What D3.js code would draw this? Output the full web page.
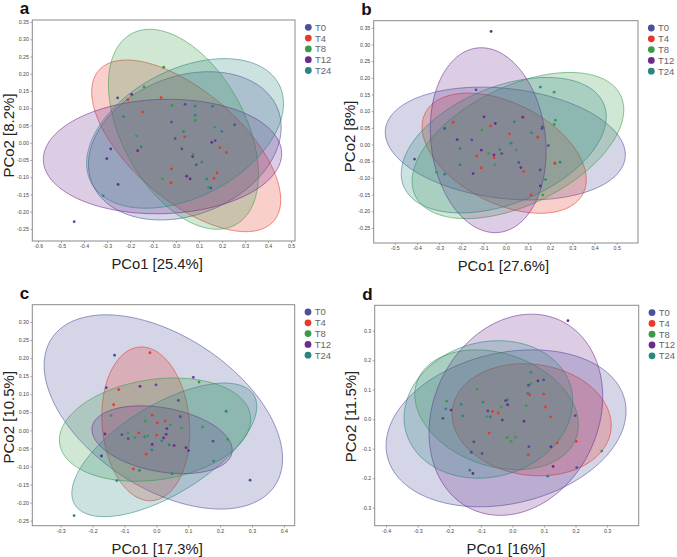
<!DOCTYPE html>
<html>
<head>
<meta charset="utf-8">
<script src="https://d3js.org/d3.v7.min.js"></script>
<style>
  body { margin: 0; background: #fff; }
  text { font-family: "Liberation Sans", Arial, sans-serif; }
</style>
</head>
<body>
<div id="chart"></div>
<script>
var groups = ["T0", "T4", "T8", "T12", "T24"];
var colors = ["#4b4f9c", "#e8382b", "#3a9a4a", "#6b2b8e", "#2b8580"];

// points: [group index, PCo1, PCo2]
var ptsA = [
  [0,-0.443,-0.229],[4,-0.317,-0.154],[3,-0.252,-0.121],[3,-0.301,-0.046],[3,-0.284,-0.018],
  [0,-0.254,0.130],[4,-0.229,0.076],[1,-0.210,0.125],[3,-0.193,0.140],[2,-0.139,0.162],
  [2,-0.054,0.219],[1,-0.146,0.089],[2,-0.172,0.020],[4,-0.152,-0.012],[3,-0.167,-0.023],
  [1,-0.065,0.131],[2,-0.017,0.108],[0,-0.020,0.060],[0,-0.004,0.012],[0,0.025,-0.018],
  [4,0.032,0.032],[1,0.038,0.017],[0,0.039,0.111],[4,0.083,0.106],[4,0.083,0.080],
  [2,0.084,0.065],[1,-0.020,-0.076],[1,-0.022,-0.116],[2,-0.059,-0.105],[3,0.046,-0.097],
  [3,0.061,-0.105],[3,0.072,-0.040],[2,0.075,-0.033],[0,0.088,-0.064],[4,0.112,-0.056],
  [4,0.159,0.106],[2,0.167,0.045],[4,0.199,0.033],[3,0.155,0.001],[0,0.170,0.006],
  [1,0.190,-0.014],[1,0.219,-0.028],[0,0.255,0.052],[1,0.178,-0.087],[1,0.165,-0.103],
  [4,0.133,-0.105],[2,0.141,-0.129],[0,0.151,-0.131]
];
var ptsB = [
  [3,-0.066,0.339],[0,-0.134,0.164],[0,-0.275,0.048],[1,-0.237,0.067],[0,-0.411,-0.044],
  [2,-0.312,-0.083],[4,-0.275,-0.089],[3,-0.219,0.015],[4,-0.206,-0.012],[4,-0.206,-0.061],
  [0,-0.153,0.014],[3,-0.147,-0.087],[3,-0.098,0.083],[2,-0.108,0.044],[1,-0.068,0.056],
  [3,-0.047,0.063],[1,-0.131,-0.034],[1,-0.111,-0.070],[3,-0.110,-0.017],[2,-0.077,-0.026],
  [3,-0.053,-0.031],[1,-0.053,-0.039],[2,-0.048,-0.060],[4,-0.027,-0.015],[0,-0.018,-0.027],
  [1,0.017,0.032],[4,0.024,0.004],[4,0.039,0.068],[2,0.048,-0.016],[0,0.059,-0.054],
  [3,0.068,-0.069],[1,0.081,-0.081],[3,0.077,0.082],[4,0.116,0.035],[1,0.144,0.022],
  [0,0.164,0.048],[0,0.165,0.053],[4,0.156,0.172],[2,0.218,0.157],[2,0.224,0.073],
  [2,0.218,0.060],[0,0.192,-0.003],[0,0.155,-0.076],[2,0.222,-0.055],[1,0.221,-0.057],
  [4,0.245,-0.053],[4,0.179,-0.105],[3,0.156,-0.124],[1,0.114,-0.151],[2,0.167,-0.151]
];
var ptsC = [
  [4,-0.258,-0.236],[3,-0.172,-0.071],[3,-0.161,-0.010],[0,-0.157,0.118],[0,-0.131,0.208],
  [1,-0.118,0.113],[1,-0.134,0.071],[2,-0.142,0.041],[4,-0.124,-0.139],[0,-0.108,-0.012],
  [2,-0.089,-0.007],[0,-0.088,-0.023],[1,-0.072,-0.107],[2,-0.067,-0.020],[1,-0.055,-0.007],
  [4,-0.053,-0.111],[3,-0.051,0.122],[2,-0.034,0.026],[4,-0.037,-0.018],[2,-0.027,-0.015],
  [1,-0.032,-0.066],[1,-0.020,0.215],[1,-0.013,0.042],[3,-0.013,-0.039],[4,-0.014,-0.054],
  [0,-0.001,0.126],[1,0.003,0.021],[1,0.001,-0.013],[4,0.017,-0.029],[3,0.023,-0.021],
  [1,0.028,0.026],[3,0.031,-0.011],[3,0.033,0.005],[4,0.040,-0.040],[2,0.044,0.015],
  [4,0.049,-0.120],[3,0.056,-0.042],[0,0.069,0.083],[0,0.075,0.038],[2,0.079,0.007],
  [3,0.093,-0.048],[3,0.101,-0.056],[0,0.116,0.147],[2,0.134,0.134],[2,0.145,0.009],
  [0,0.178,-0.030],[4,0.180,-0.085],[4,0.219,0.053],[2,0.224,-0.025],[0,0.294,-0.138]
];
var ptsD = [
  [3,0.176,0.334],[0,-0.220,0.003],[4,-0.211,0.035],[2,-0.208,0.061],[3,-0.194,0.031],
  [4,-0.162,0.050],[4,-0.157,0.011],[4,-0.135,-0.173],[3,-0.125,-0.184],[0,-0.130,-0.112],
  [0,-0.122,-0.077],[2,-0.112,0.102],[0,-0.096,-0.116],[4,-0.093,0.058],[2,-0.081,0.008],
  [0,-0.078,0.028],[4,-0.070,0.008],[1,-0.063,0.026],[1,-0.045,0.021],[1,-0.074,-0.047],
  [2,-0.035,0.042],[3,-0.032,-0.003],[3,-0.021,0.063],[4,-0.015,0.066],[3,-0.015,0.049],
  [2,-0.016,-0.062],[2,-0.004,-0.075],[2,0.010,-0.061],[3,0.037,-0.007],[2,0.044,0.046],
  [4,0.049,0.087],[0,0.051,0.115],[1,0.055,0.082],[2,0.059,0.121],[4,0.059,0.159],
  [0,0.052,-0.093],[1,0.050,-0.120],[3,0.081,0.130],[0,0.099,0.133],[1,0.099,0.085],
  [1,0.105,0.042],[1,0.121,0.008],[3,0.122,-0.093],[3,0.129,-0.160],[4,0.112,-0.193],
  [1,0.142,-0.080],[0,0.199,0.012],[1,0.202,-0.075],[0,0.204,-0.164],[2,0.283,-0.108]
];

// ellipses per group: [centre x, centre y, half width, half height, correlation]
var ellA = [[0.038,-0.009,0.419,0.215,0.25],[0.044,-0.009,0.411,0.249,-0.63],[0.032,0.039,0.326,0.290,-0.45],
            [-0.059,-0.040,0.518,0.166,0.05],[0.039,0.027,0.428,0.217,0.40]];
var ellB = [[-0.002,0.003,0.541,0.169,-0.2],[-0.007,-0.026,0.370,0.180,-0.44],[0.055,-0.003,0.477,0.219,0.49],
            [-0.079,0.013,0.261,0.277,-0.12],[-0.009,-0.002,0.462,0.203,0.42]];
var ellC = [[0.022,0.051,0.374,0.269,-0.48],[-0.033,0.018,0.138,0.213,-0.1],[-0.004,0.002,0.300,0.143,0.2],
            [0.018,-0.026,0.220,0.094,-0.3],[0.025,-0.054,0.290,0.185,0.65]];
var ellD = [[-0.020,-0.031,0.380,0.266,0.22],[0.061,-0.002,0.252,0.190,-0.1],[-0.050,0.032,0.259,0.203,-0.25],
            [0.011,0.015,0.275,0.341,0.18],[-0.076,0.033,0.267,0.233,0.12]];

var xTicksA = d3.range(-6, 6).map(d => d / 10), yTicksA = d3.range(-5, 8).map(d => d / 20);
var xTicksB = d3.range(-5, 6).map(d => d / 10), yTicksB = d3.range(-5, 8).map(d => d / 20);
var xTicksC = d3.range(-3, 5).map(d => d / 10), yTicksC = d3.range(-5, 7).map(d => d / 20);
var xTicksD = d3.range(-4, 4).map(d => d / 10), yTicksD = d3.range(-3, 4).map(d => d / 10);

var panels = [
  {label: "a", box: [32.3, 20, 295, 241], xd: [-0.625, 0.517], yd: [-0.285, 0.356], xt: xTicksA, yt: yTicksA,
   yf: ".2f", xTitle: "PCo1 [25.4%]", yTitle: "PCo2 [8.2%]", pts: ptsA, ell: ellA, tdx: -6.5, tdy: 5},
  {label: "b", box: [373.7, 20.7, 638, 243], xd: [-0.595, 0.596], yd: [-0.295, 0.371], xt: xTicksB, yt: yTicksB,
   yf: ".2f", xTitle: "PCo1 [27.6%]", yTitle: "PCo2 [8%]", pts: ptsB, ell: ellB, tdx: -2.5, tdy: 4.5},
  {label: "c", box: [32.3, 304.7, 294.7, 525.7], xd: [-0.389, 0.434], yd: [-0.264, 0.348], xt: xTicksC, yt: yTicksC,
   yf: ".2f", xTitle: "PCo1 [17.3%]", yTitle: "PCo2 [10.5%]", pts: ptsC, ell: ellC, tdx: -6.3, tdy: 2},
  {label: "d", box: [374.7, 305.3, 638.7, 525.7], xd: [-0.436, 0.400], yd: [-0.361, 0.386], xt: xTicksD, yt: yTicksD,
   yf: ".1f", xTitle: "PCo1 [16%]", yTitle: "PCo2 [11.5%]", pts: ptsD, ell: ellD, tdx: -0.7, tdy: 1}
];

var svg = d3.select("#chart").append("svg").attr("width", 677).attr("height", 557);
svg.append("rect").attr("width", 677).attr("height", 557).attr("fill", "#fff");

function fmt(f) { var g = d3.format(f); return d => g(d).replace("\u2212", "-"); }

panels.forEach(function(p) {
  var x0 = p.box[0], y0 = p.box[1], x1 = p.box[2], y1 = p.box[3];
  var x = d3.scaleLinear().domain(p.xd).range([x0, x1]);
  var y = d3.scaleLinear().domain(p.yd).range([y1, y0]);
  var g = svg.append("g");

  var clipId = "clip" + p.label;
  g.append("clipPath").attr("id", clipId).append("rect")
    .attr("x", x0).attr("y", y0).attr("width", x1 - x0).attr("height", y1 - y0);

  var line = d3.line().x(d => x(d[0])).y(d => y(d[1]));
  var tt = d3.range(0, 121).map(i => i / 120 * 2 * Math.PI);
  g.append("g").attr("clip-path", "url(#" + clipId + ")")
    .selectAll("path").data(p.ell).join("path")
      .attr("d", e => line(tt.map(t => [e[0] + e[2] * Math.cos(t),
          e[1] + e[3] * (e[4] * Math.cos(t) + Math.sqrt(1 - e[4] * e[4]) * Math.sin(t))])) + "Z")
      .attr("fill", (e, i) => colors[i]).attr("fill-opacity", 0.24)
      .attr("stroke", (e, i) => colors[i]).attr("stroke-opacity", 0.7).attr("stroke-width", 0.8);

  g.append("g").selectAll("circle").data(p.pts).join("circle")
    .attr("cx", d => x(d[1])).attr("cy", d => y(d[2])).attr("r", 1.4)
    .attr("fill", d => colors[d[0]]);

  g.append("rect").attr("x", x0).attr("y", y0).attr("width", x1 - x0).attr("height", y1 - y0)
    .attr("fill", "none").attr("stroke", "#8a8a8a").attr("stroke-width", 1);

  var xa = g.append("g").attr("transform", "translate(0," + y1 + ")")
    .call(d3.axisBottom(x).tickValues(p.xt).tickFormat(fmt(".1f")).tickSize(2).tickPadding(1.5));
  var ya = g.append("g").attr("transform", "translate(" + x0 + ",0)")
    .call(d3.axisLeft(y).tickValues(p.yt).tickFormat(fmt(p.yf)).tickSize(2).tickPadding(1.5));
  [xa, ya].forEach(function(a) {
    a.select(".domain").remove();
    a.selectAll("line").attr("stroke", "#777").attr("stroke-width", 0.6);
    a.selectAll("text").attr("font-size", 5.2).attr("fill", "#444")
      .attr("font-family", "'Liberation Sans', Arial, sans-serif");
  });

  g.append("text").attr("x", (x0 + x1) / 2 + p.tdx).attr("y", y1 + 28).attr("text-anchor", "middle")
    .attr("font-size", 14.8).attr("fill", "#222").text(p.xTitle);
  g.append("text").attr("transform", "translate(" + (x0 - 18.8) + "," + ((y0 + y1) / 2 + p.tdy) + ") rotate(-90)")
    .attr("text-anchor", "middle").attr("font-size", 15).attr("fill", "#222").text(p.yTitle);

  g.append("text").attr("x", x0 - 12.5).attr("y", y0 - 5.8).attr("font-size", 17).attr("font-weight", "bold")
    .attr("fill", "#111").text(p.label);

  var lg = g.append("g").attr("transform", "translate(" + (x1 + 13.3) + "," + (y0 + 7.3) + ")");
  var items = lg.selectAll("g").data(groups).join("g")
    .attr("transform", (d, i) => "translate(0," + i * 10.8 + ")");
  items.append("circle").attr("r", 3.4).attr("fill", (d, i) => colors[i]);
  items.append("text").attr("x", 6.7).attr("dy", "0.36em").attr("font-size", 9.5)
    .attr("font-family", "'DejaVu Sans', Verdana, sans-serif").attr("fill", "#666").text(d => d);
});
</script>
</body>
</html>
